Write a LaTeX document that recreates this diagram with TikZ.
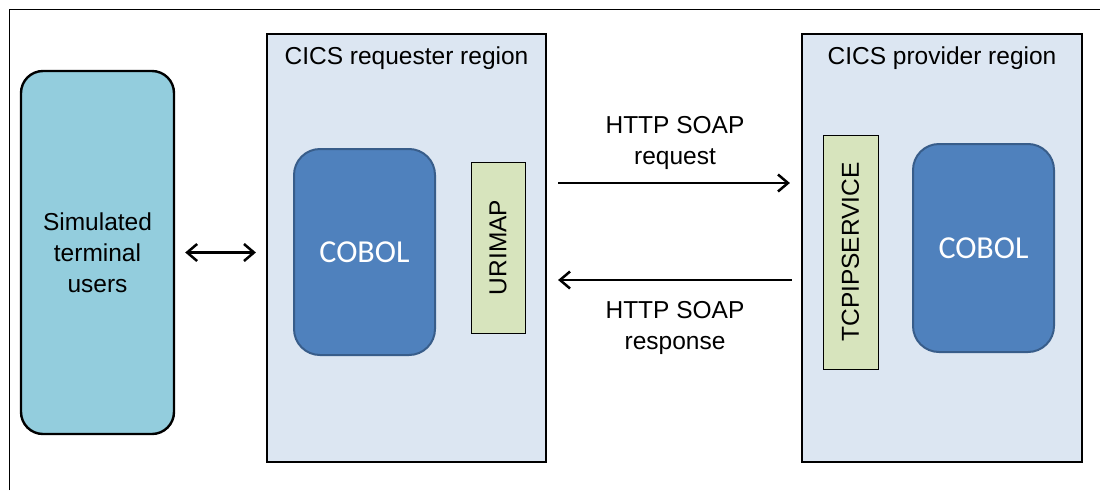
\documentclass[tikz,border=0pt]{standalone}
\usepackage{fontspec}
\setmainfont{Liberation Sans}
\newfontfamily\cobolfont{Carlito}
\usetikzlibrary{arrows.meta}
\definecolor{termfill}{HTML}{93CDDD}
\definecolor{regfill}{HTML}{DCE6F2}
\definecolor{cobfill}{HTML}{4F81BD}
\definecolor{cobdraw}{HTML}{385D8A}
\definecolor{resfill}{HTML}{D7E4BD}
\tikzset{
  txt/.style={font=\fontsize{24.5}{31}\selectfont, align=center, inner sep=0pt},
  region/.style={draw=black, line width=2.2pt, fill=regfill, inner sep=0pt},
  termbox/.style={draw=black, line width=2.4pt, fill=termfill, rounded corners=22pt, inner sep=0pt, txt},
  cobolbox/.style={draw=cobdraw, line width=2pt, fill=cobfill, rounded corners=26pt, inner sep=0pt, text=white, font=\cobolfont\fontsize{32}{36}\selectfont},
  resbox/.style={draw=black, line width=0.9pt, fill=resfill, inner sep=0pt},
  conn/.style={line width=2.5pt, draw=black},
  tipr/.style={conn, -{Straight Barb[length=10pt,width=17pt]}},
  tipb/.style={conn, {Straight Barb[length=10pt,width=17pt]}-{Straight Barb[length=10pt,width=17pt]}},
}
\begin{document}
\begin{tikzpicture}[x=1pt,y=-1pt]
\useasboundingbox (0,0) rectangle (1100,490);
\draw[line width=1pt] (9,490) -- (9,9) -- (1100,9);

\node[termbox, minimum width=153pt, minimum height=363pt] (term) at (97.5,252.5) {Simulated\\terminal\\users};

\node[region, minimum width=279pt, minimum height=428pt] (req) at (406.5,248) {};
\node[txt] (reqtitle) at (406.5,58) {CICS requester region};
\node[cobolbox, minimum width=141pt, minimum height=206pt] (cobl) at (364.5,252) {COBOL};
\node[resbox, minimum width=54pt, minimum height=171pt] (uri) at (498,247.5) {};
\node[txt, rotate=90] (urilab) at (uri.center) {URIMAP};

\node[region, minimum width=280pt, minimum height=428pt] (prov) at (942,248) {};
\node[txt] (provtitle) at (942,58) {CICS provider region};
\node[resbox, minimum width=55pt, minimum height=234pt] (tcp) at (850.5,252) {};
\node[txt, rotate=90] (tcplab) at (tcp.center) {TCPIPSERVICE};
\node[cobolbox, minimum width=141pt, minimum height=208pt] (cobr) at (983.5,248) {COBOL};

\node[txt] (reqlab) at (675,143) {HTTP SOAP\\request};
\node[txt] (reslab) at (675,328) {HTTP SOAP\\response};

\draw[tipb, shorten <=10pt, shorten >=10pt] (term.east) -- (term.east -| req.west);
\draw[tipr] ([xshift=11pt,yshift=65pt]req.east) -- ([xshift=-11pt,yshift=65pt]prov.west);
\draw[tipr] ([xshift=-9pt,yshift=-32pt]prov.west) -- ([xshift=11pt,yshift=-32pt]req.east);
\end{tikzpicture}
\end{document}
